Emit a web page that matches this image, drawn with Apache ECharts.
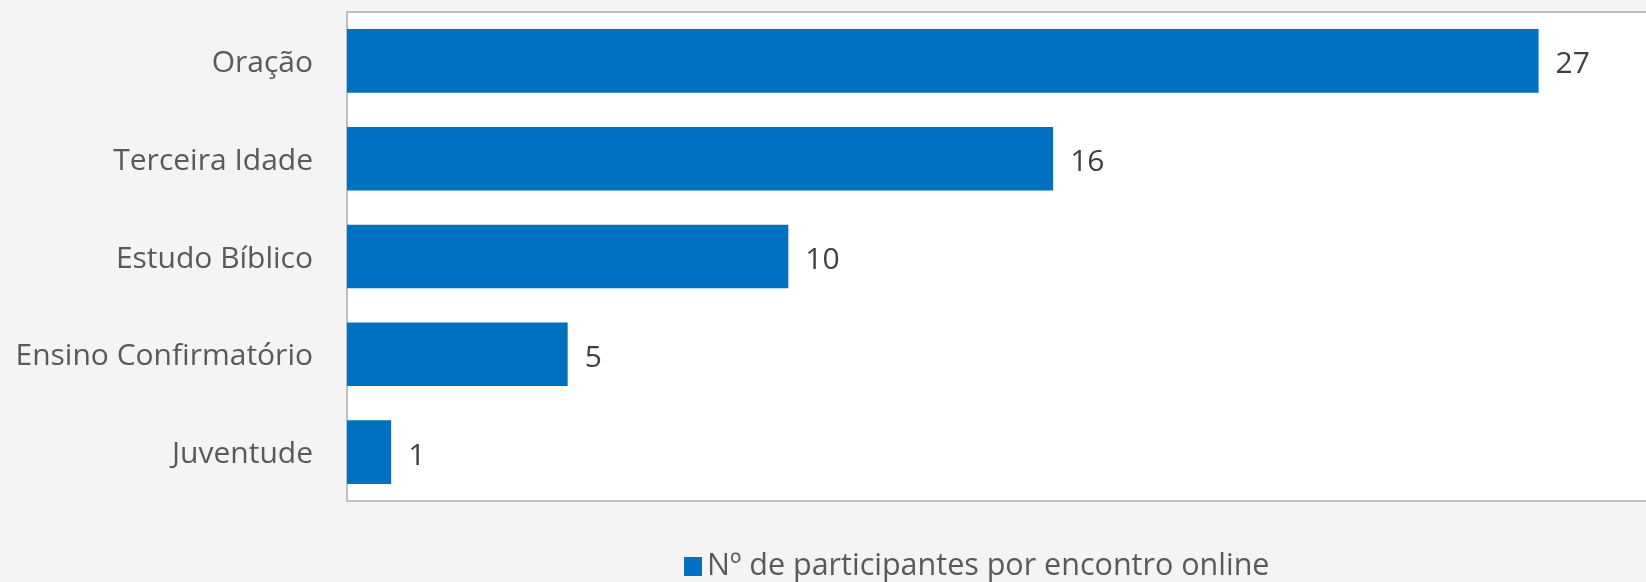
<!DOCTYPE html>
<html>
<head>
<meta charset="utf-8">
<script src="https://cdn.jsdelivr.net/npm/echarts@6/dist/echarts.min.js"></script>
<style>
  html, body { margin: 0; padding: 0; background: #f4f4f4; }
  #chart { width: 1646px; height: 582px; }
</style>
</head>
<body>
<div id="chart"></div>
<script>
// Grupos e número de participantes por encontro online
const categories = ['Oração', 'Terceira Idade', 'Estudo Bíblico', 'Ensino Confirmatório', 'Juventude'];
const participantes = [27, 16, 10, 5, 1];
const seriesName = 'Nº de participantes por encontro online';

const FONT = '"Open Sans", "Noto Sans", sans-serif';

const chart = echarts.init(document.getElementById('chart'), null, { renderer: 'canvas' });
chart.setOption({
  backgroundColor: '#f4f4f4',
  animation: false,
  grid: {
    show: true,
    left: 347,
    top: 12,
    width: 1324,
    height: 489,
    outerBoundsMode: 'none',
    containLabel: false,
    backgroundColor: '#ffffff',
    borderColor: '#bfbfbf',
    borderWidth: 2
  },
  legend: {
    data: [seriesName],
    bottom: -5,
    left: 679,
    itemWidth: 18,
    itemHeight: 19,
    itemGap: 8,
    icon: 'rect',
    textStyle: { color: '#595959', fontSize: 30.5, fontFamily: FONT }
  },
  xAxis: {
    type: 'value',
    min: 0,
    max: 30,
    show: false,
    splitLine: { show: false }
  },
  yAxis: {
    type: 'category',
    inverse: true,
    data: categories,
    axisLine: { show: false },
    axisTick: { show: false },
    axisLabel: {
      color: '#595959',
      fontSize: 30,
      fontFamily: FONT,
      margin: 34,
      verticalAlign: 'top',
      lineHeight: 5
    }
  },
  series: [{
    name: seriesName,
    type: 'bar',
    data: participantes,
    barCategoryGap: '35%',
    itemStyle: { color: '#0070c0' },
    label: {
      show: true,
      position: 'right',
      distance: 17,
      offset: [0, 4],
      color: '#404040',
      fontSize: 30,
      fontFamily: FONT
    }
  }]
});
</script>
</body>
</html>
